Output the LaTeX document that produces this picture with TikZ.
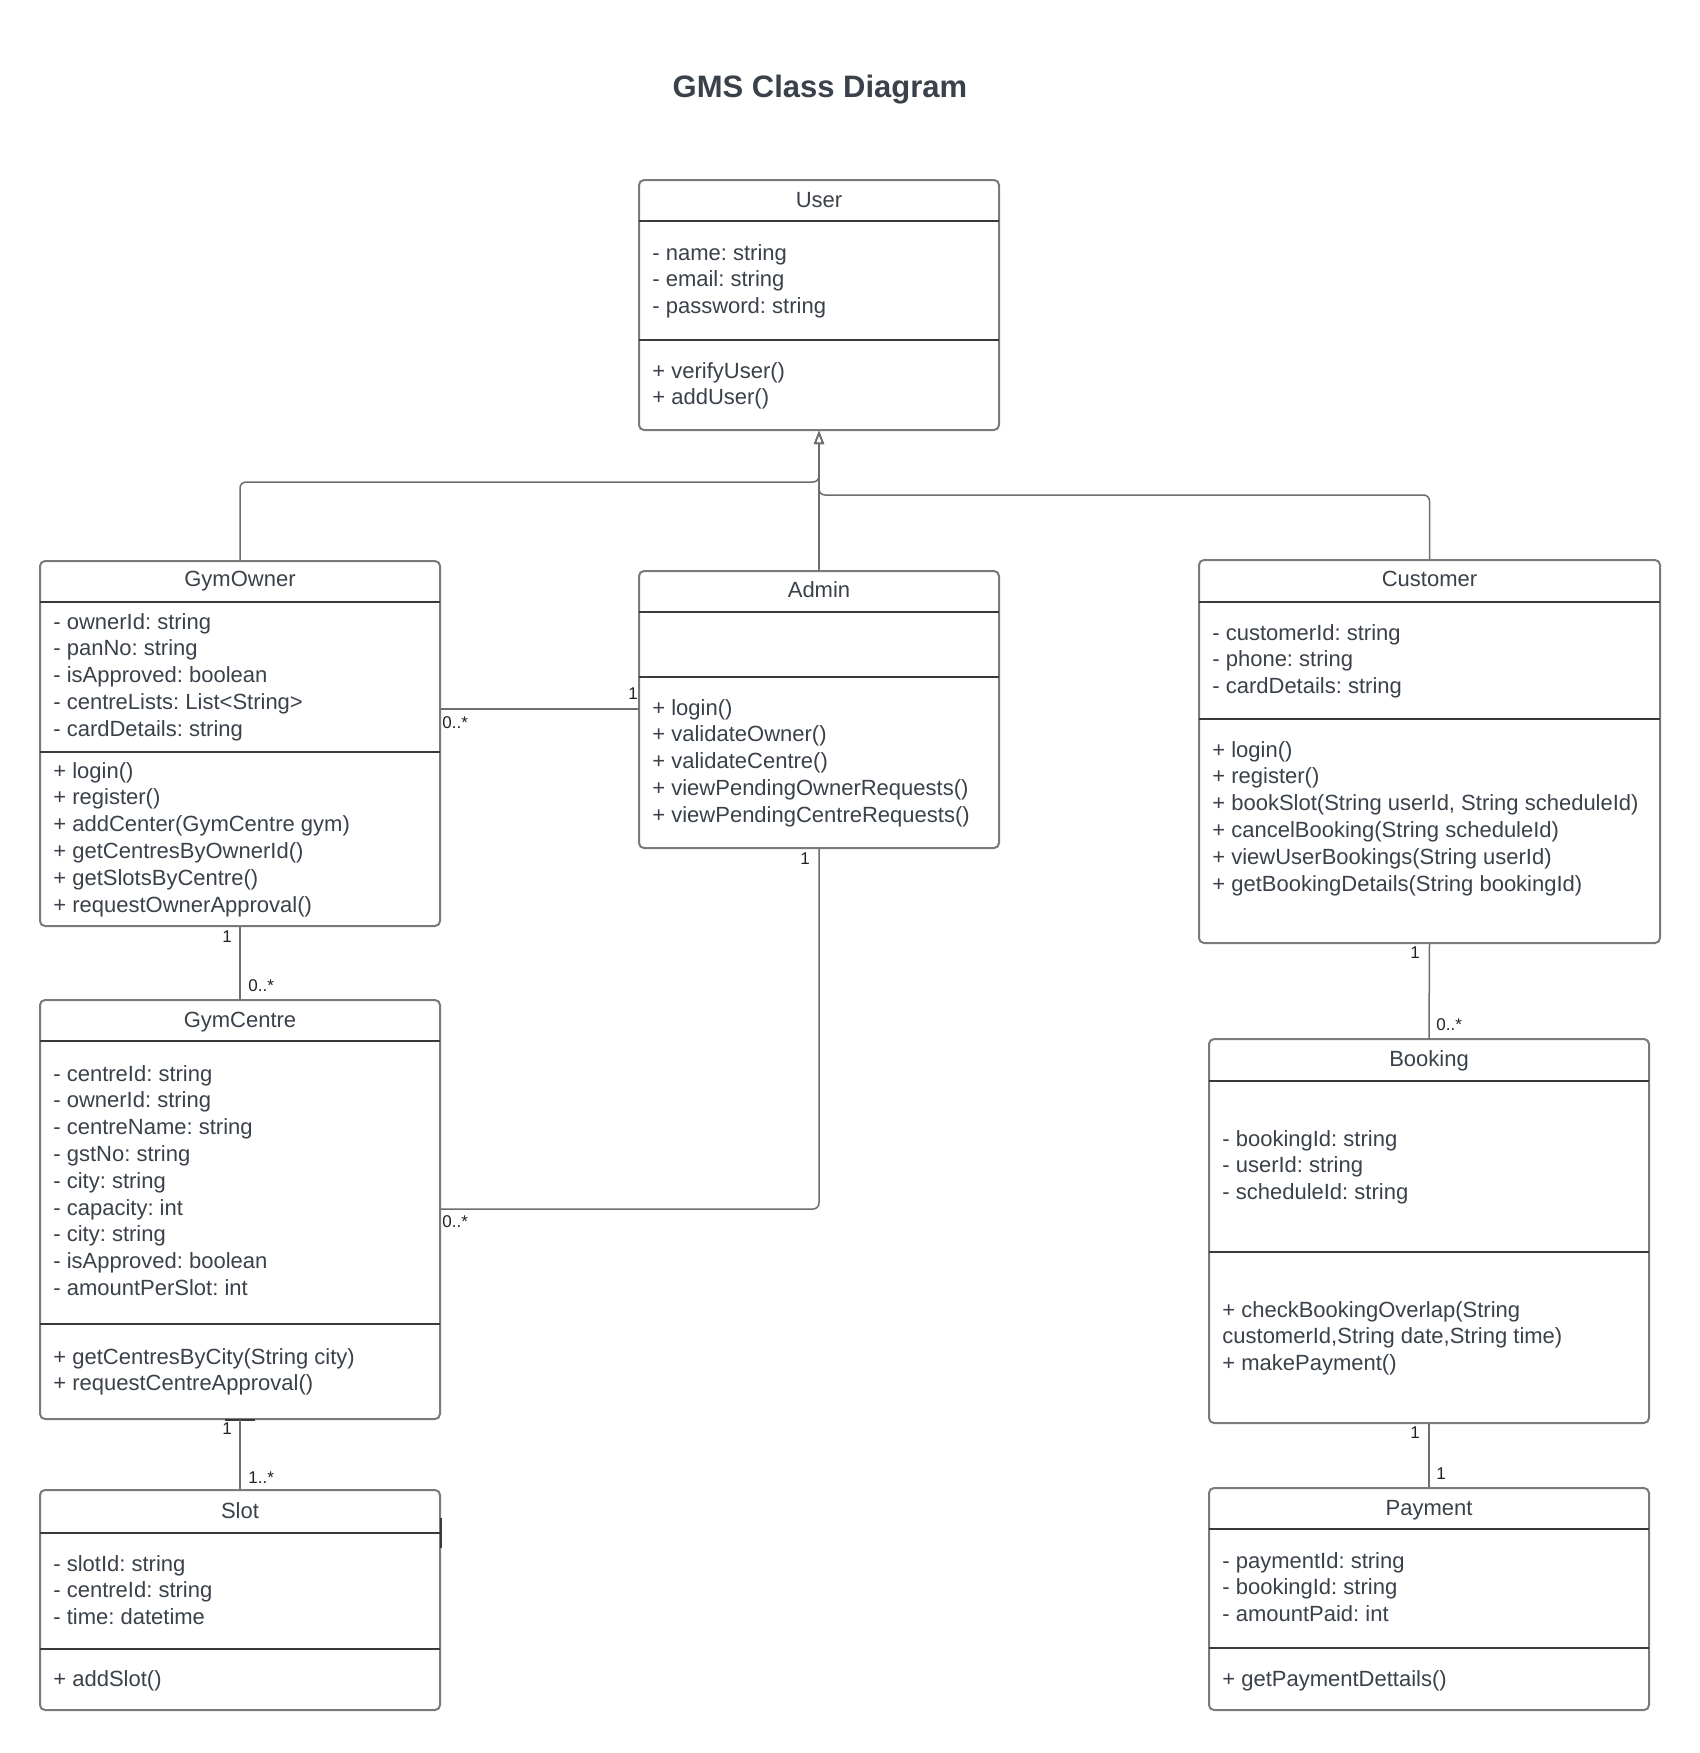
\documentclass[tikz,border=0pt]{standalone}
\usepackage{fontspec}
\setmainfont{Liberation Sans}
\usetikzlibrary{arrows.meta,fit}
\frenchspacing
\definecolor{txt}{HTML}{3A414A}
\definecolor{boxline}{HTML}{7A7A7A}
\definecolor{divline}{HTML}{3A3A3A}
\definecolor{connline}{HTML}{6E6E6E}
\definecolor{multc}{HTML}{222222}
\tikzset{
  classbox/.style={draw=boxline, line width=1pt, rounded corners=2.5pt, inner sep=0pt},
  divider/.style={draw=divline, line width=0.9pt},
  member/.style={anchor=base west, inner sep=0pt, text=txt, font=\frenchspacing\fontsize{11}{13.4}\selectfont},
  ctitle/.style={anchor=base, inner sep=0pt, text=txt, font=\fontsize{11}{13.4}\selectfont},
  mult/.style={anchor=base, inner sep=0pt, text=multc, font=\fontsize{8.5}{10}\selectfont},
  multl/.style={mult, anchor=base west},
  conn/.style={draw=connline, line width=0.75pt, rounded corners=3pt},
  gen/.style={conn, -{Triangle[open, length=6.5pt, width=5pt]}}
}
% name, left, top, right, bottom, header divider, second divider, title, title baseline
\newcommand\umlclass[9]{%
  \node[classbox, fit={(#2,#3) (#4,#5)}] (#1) {};
  \draw[divider] (#2,#6) -- (#4,#6);
  \draw[divider] (#2,#7) -- (#4,#7);
  \node[ctitle] (#1-title) at ({(#2+#4)/2},#9) {#8};
}
% prefix, x, first baseline, list
\newcommand\umlmembers[4]{%
  \foreach \s [count=\i] in {#4} {
    \node[member] (#1-\i) at ({#2},{#3+(\i-1)*26.8}) {\s};
  }
}
\begin{document}
\begin{tikzpicture}[x=0.5pt, y=-0.5pt]
\fill[white] (0,0) rectangle (1700,1753);
\useasboundingbox (0,0) rectangle (1700,1753);

\node[anchor=base, inner sep=0pt, text=txt, font=\bfseries\fontsize{15.5}{18}\selectfont] (title) at (820,97) {GMS Class Diagram};

% User
\umlclass{user}{639}{180}{999}{430}{221}{340}{User}{207}
\umlmembers{user-a}{652}{260}{- name: string, - email: string, - password: string}
\umlmembers{user-m}{652}{378}{+ verifyUser(), + addUser()}

% GymOwner
\umlclass{gymowner}{40}{561}{440}{926}{602}{752}{GymOwner}{586}
\umlmembers{gymowner-a}{53}{629}{- ownerId: string, - panNo: string, - isApproved: boolean, - centreLists: List<String>, - cardDetails: string}
\umlmembers{gymowner-m}{53}{778}{+ login(), + register(), + addCenter(GymCentre gym), + getCentresByOwnerId(), + getSlotsByCentre(), + requestOwnerApproval()}

% Admin
\umlclass{admin}{639}{571}{999}{848}{612}{677}{Admin}{597}
\umlmembers{admin-m}{652}{715}{+ login(), + validateOwner(), + validateCentre(), + viewPendingOwnerRequests(), + viewPendingCentreRequests()}

% Customer
\umlclass{customer}{1199}{560}{1660}{943}{602}{719}{Customer}{586}
\umlmembers{customer-a}{1212}{640}{- customerId: string, - phone: string, - cardDetails: string}
\umlmembers{customer-m}{1212}{757}{+ login(), + register(), {+ bookSlot(String userId, String scheduleId)}, + cancelBooking(String scheduleId), + viewUserBookings(String userId), + getBookingDetails(String bookingId)}

% GymCentre
\umlclass{gymcentre}{40}{1000}{440}{1419}{1041}{1324}{GymCentre}{1027}
\umlmembers{gymcentre-a}{53}{1081}{- centreId: string, - ownerId: string, - centreName: string, - gstNo: string, - city: string, - capacity: int, - city: string, - isApproved: boolean, - amountPerSlot: int}
\umlmembers{gymcentre-m}{53}{1364}{+ getCentresByCity(String city), + requestCentreApproval()}

% Slot
\umlclass{slot}{40}{1490}{440}{1710}{1533}{1649}{Slot}{1518}
\umlmembers{slot-a}{53}{1571}{- slotId: string, - centreId: string, - time: datetime}
\umlmembers{slot-m}{53}{1686}{+ addSlot()}

% Booking
\umlclass{booking}{1209}{1039}{1649}{1423}{1081}{1252}{Booking}{1066}
\umlmembers{booking-a}{1222}{1146}{- bookingId: string, - userId: string, - scheduleId: string}
\umlmembers{booking-m}{1222}{1317}{+ checkBookingOverlap(String, {customerId,String date,String time)}, + makePayment()}

% Payment
\umlclass{payment}{1209}{1488}{1649}{1710}{1529}{1648}{Payment}{1515}
\umlmembers{payment-a}{1222}{1568}{- paymentId: string, - bookingId: string, - amountPaid: int}
\umlmembers{payment-m}{1222}{1686}{+ getPaymentDettails()}

% small darker stubs on borders
\draw[divider] (225,1420) -- (255,1420);
\draw[divider] (441,1518) -- (441,1548);

% Generalizations
\draw[gen] (gymowner.north) |- (819,482) -- (user.south);
\draw[gen] (customer.north) |- (819,495) -- (user.south);
\draw[gen] (admin.north) -- (user.south);

% Associations
\draw[conn] (gymowner.east |- 0,709) -- (admin.west |- 0,709);
\draw[conn] (admin.south) |- (gymcentre.east |- 0,1209);
\draw[conn] (gymowner.south) -- (gymcentre.north);
\draw[conn] (gymcentre.south) -- (slot.north);
\draw[conn] (customer.south) -- (booking.north);
\draw[conn] (booking.south) -- (payment.north);

% Multiplicities
\node[multl] (m1) at (442,728) {0..*};
\node[mult] (m2) at (633,699) {1};
\node[mult] (m3) at (227,942) {1};
\node[multl] (m4) at (248,991) {0..*};
\node[mult] (m5) at (805,864) {1};
\node[multl] (m6) at (442,1227) {0..*};
\node[mult] (m7) at (227,1434) {1};
\node[multl] (m8) at (248,1483) {1..*};
\node[mult] (m9) at (1415,958) {1};
\node[multl] (m10) at (1436,1030) {0..*};
\node[mult] (m11) at (1415,1438) {1};
\node[mult] (m12) at (1441,1479) {1};
\end{tikzpicture}
\end{document}
